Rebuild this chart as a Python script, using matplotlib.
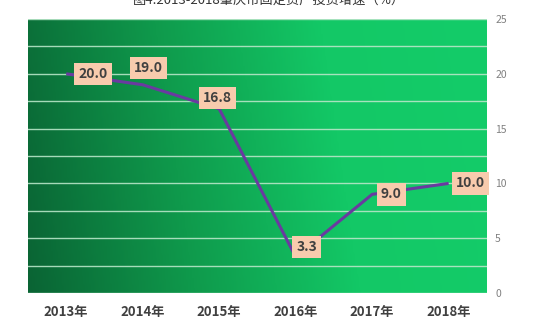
import numpy as np
import matplotlib.pyplot as plt
from matplotlib.colors import LinearSegmentedColormap

plt.rcParams["font.family"] = ["Noto Sans CJK SC", "DejaVu Sans"]

# data
years = ["2013年", "2014年", "2015年", "2016年", "2017年", "2018年"]
growth = [20.0, 19.0, 16.8, 3.3, 9.0, 10.0]
label_offsets = [(27, 0), (6, 17), (-2, 11), (11, 10), (19, 0), (22, 0)]  # pixels

title = "图4:2013-2018肇庆市固定资产投资增速（%）"

fig = plt.figure(figsize=(5.38, 3.25), dpi=100)
ax = fig.add_axes([0.052, 0.0985, 0.853, 0.843])

x = np.arange(len(years))
ax.set_xlim(-0.5, len(years) - 0.5)
ax.set_ylim(0, 25)

# gradient background
cmap = LinearSegmentedColormap.from_list("bg", ["#0a6434", "#0f9a4c", "#13c866", "#14cc69"])
gx = np.linspace(0, 1, 256)
gy = np.linspace(0, 1, 64)
gxx, gyy = np.meshgrid(gx, gy)
grad = np.clip(gxx * 0.92 + gyy * 0.08, 0, 1)
ax.imshow(grad, extent=[-0.5, len(years) - 0.5, 0, 25], origin="lower",
          aspect="auto", cmap=cmap, zorder=0)

ax.set_yticks(np.arange(0, 26, 5))
ax.set_yticks(np.arange(0, 25.1, 2.5), minor=True)
ax.grid(axis="y", which="both", color="#b8e6c8", lw=1.0, alpha=0.9, zorder=1)
ax.set_axisbelow(False)

ax.plot(x, growth, color="#6a3aa0", lw=2.2, zorder=3, solid_capstyle="butt")

for xi, v, (dx, dy) in zip(x, growth, label_offsets):
    ax.annotate(f"{v:.1f}", (xi, v), xytext=(dx, dy), textcoords="offset pixels",
                ha="center", va="center", fontsize=10, fontweight="bold", color="#404040",
                bbox=dict(boxstyle="square,pad=0.3", fc="#f8cbad", ec="none"), zorder=4)

ax.set_xticks(x)
ax.set_xticklabels(years, fontsize=9.5, fontweight="bold", color="#404040")
ax.yaxis.tick_right()
ax.tick_params(axis="y", which="both", length=0, labelsize=7.5, labelcolor="#808080", pad=6)
ax.tick_params(axis="x", length=0, pad=9)
for s in ax.spines.values():
    s.set_visible(False)

fig.text(0.5, 1.0, title, ha="center", va="center", fontsize=9.5, color="#333333")

fig.savefig("out.png", dpi=100)
